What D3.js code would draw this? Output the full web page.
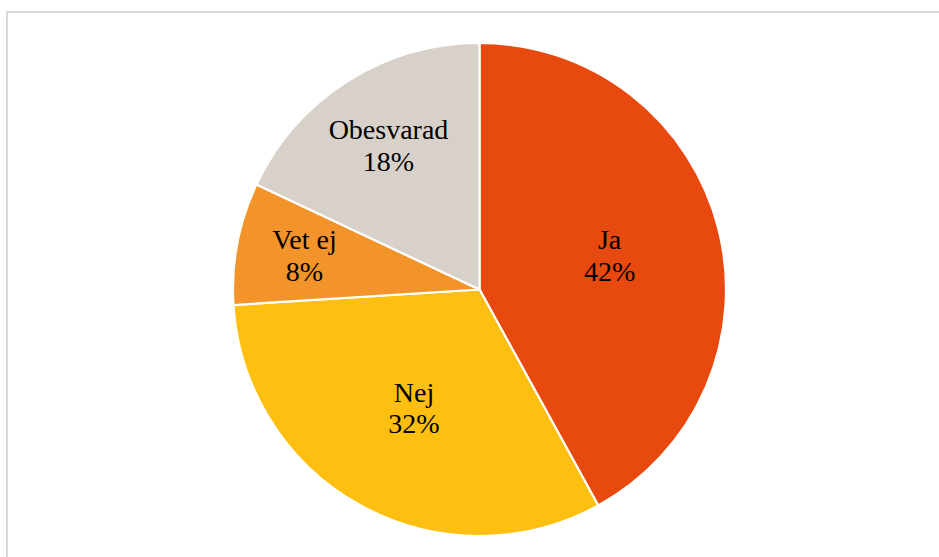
<!DOCTYPE html>
<html>
<head>
<meta charset="utf-8">
<script src="https://cdn.jsdelivr.net/npm/d3@7"></script>
<style>
  html, body { margin: 0; padding: 0; background: #fff; }
  svg { display: block; }
</style>
</head>
<body>
<svg id="chart" width="939" height="557"></svg>
<script>
// Survey answers, clockwise from 12 o'clock
const categories = ["Ja", "Nej", "Vet ej", "Obesvarad"];
const shares = [42, 32, 8, 18];
const sliceColors = ["#E8490E", "#FEBF10", "#F29429", "#D8D1CA"];
// Radial placement of each label as a fraction of the pie radius
const labelRadius = [0.545, 0.552, 0.723, 0.689];

const width = 939, height = 557;
const cx = 479.5, cy = 289.5, radius = 246.5;

const svg = d3.select("#chart");

// Chart area frame
svg.append("rect")
  .attr("x", 7).attr("y", 12)
  .attr("width", 1000).attr("height", 700)
  .attr("fill", "#fff")
  .attr("stroke", "#d9d9d9")
  .attr("stroke-width", 2);

const data = categories.map((c, i) => ({ name: c, value: shares[i], color: sliceColors[i], lr: labelRadius[i] }));

const pie = d3.pie().value(d => d.value).sort(null);
const arc = d3.arc().innerRadius(0).outerRadius(radius);

const g = svg.append("g").attr("transform", `translate(${cx},${cy})`);
const arcs = pie(data);

g.selectAll("path.slice")
  .data(arcs)
  .join("path")
  .attr("class", "slice")
  .attr("d", arc)
  .attr("fill", d => d.data.color)
  .attr("stroke", "#fff")
  .attr("stroke-width", 2.2)
  .attr("stroke-linejoin", "miter");

g.selectAll("text.lbl")
  .data(arcs)
  .join("text")
  .attr("class", "lbl")
  .attr("text-anchor", "middle")
  .attr("font-family", "'Liberation Serif', 'Times New Roman', serif")
  .attr("font-size", 28)
  .attr("fill", "#000")
  .each(function (d) {
    const mid = (d.startAngle + d.endAngle) / 2;
    const r = radius * d.data.lr;
    const x = r * Math.sin(mid);
    const y = -r * Math.cos(mid);
    const t = d3.select(this);
    t.append("tspan").attr("x", x).attr("y", y - 6.75).text(d.data.name);
    t.append("tspan").attr("x", x).attr("y", y + 24.75).text(d.data.value + "%");
  });
</script>
</body>
</html>
